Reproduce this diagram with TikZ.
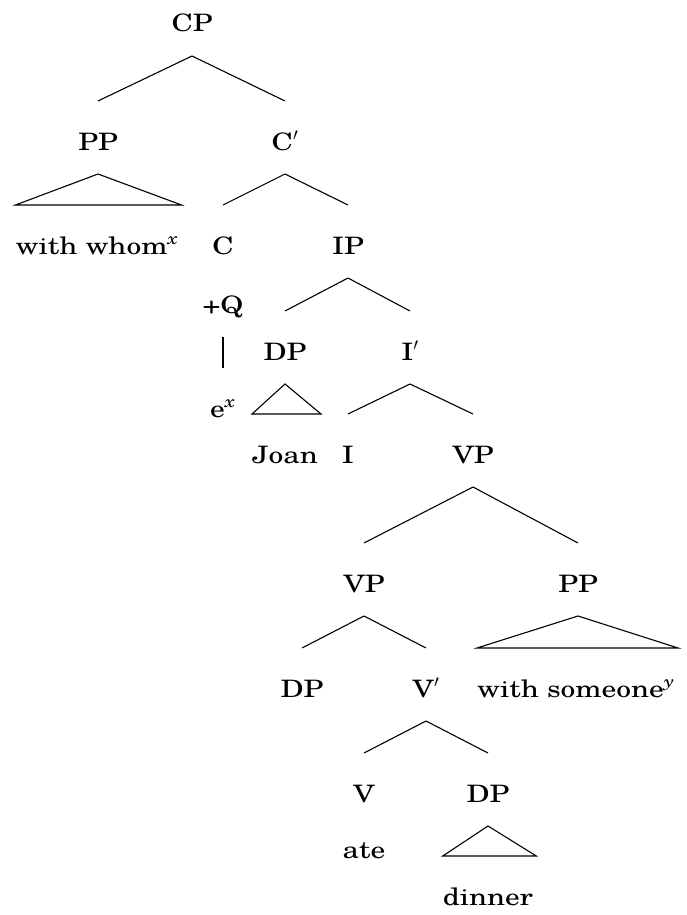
\documentclass[tikz,border=0pt]{standalone}
\usepackage{fontspec}
\setmainfont{texgyreschola}[Extension=.otf, UprightFont=*-regular, ItalicFont=*-italic, BoldFont=*-bold, BoldItalicFont=*-bolditalic, FakeStretch=1.23]
\usetikzlibrary{calc}

\tikzset{
  lbl/.style={anchor=base, inner sep=0pt, font=\fontsize{24}{28}\selectfont},
  branch/.style={line width=1.1pt, line join=miter},
}
% plain branch: from below the parent label to above the child label
\newcommand\treeedge[2]{\draw[branch] ([yshift=-24pt]#1.base) -- ([yshift=49pt]#2.base);}
% triangle over an unanalysed constituent
\newcommand\treetri[2]{%
  \path ([yshift=49pt]#2.base) coordinate (#2-top);
  \draw[branch] ([yshift=-24pt]#1.base) -- (#2-top -| #2.west) -- ([xshift=3pt]#2-top -| #2.east) -- cycle;}

\begin{document}
\begin{tikzpicture}[x=1pt, y=-1pt]
\useasboundingbox (0,0) rectangle (686,915);

\node[lbl] (cp)      at (192,32)  {CP};
\node[lbl] (pp)      at (98,150)  {PP};
\node[lbl] (cbar)    at (285,150) {C$'$};
\node[lbl] (whom)    at (97,254)  {with whom\textsuperscript{\itshape x}};
\node[lbl] (c)       at (223,254) {C};
\node[lbl] (ip)      at (348,254) {IP};
\node[lbl] (q)       at (223,313) {+Q};
\node[lbl] (dpa)     at (285,360) {DP};
\node[lbl] (ibar)    at (410,360) {I$'$};
\node[lbl] (ex)      at (223,417) {e\textsuperscript{\itshape x}};
\node[lbl] (joan)    at (285,463) {Joan};
\node[lbl] (i)       at (348,463) {I};
\node[lbl] (vpa)     at (473,463) {VP};
\node[lbl] (vpb)     at (364,592) {VP};
\node[lbl] (ppb)     at (578,592) {PP};
\node[lbl] (dpb)     at (302,697) {DP};
\node[lbl] (vbar)    at (426,697) {V$'$};
\node[lbl] (someone) at (576,697) {with someone\textsuperscript{\itshape y}};
\node[lbl] (v)       at (364,802) {V};
\node[lbl] (dpc)     at (488,802) {DP};
\node[lbl] (ate)     at (364,858) {ate};
\node[lbl] (dinner)  at (488,905) {dinner};

\treeedge{cp}{pp}
\treeedge{cp}{cbar}
\treetri{pp}{whom}
\treeedge{cbar}{c}
\treeedge{cbar}{ip}
\treeedge{q}{ex}
\treeedge{ip}{dpa}
\treeedge{ip}{ibar}
\treetri{dpa}{joan}
\treeedge{ibar}{i}
\treeedge{ibar}{vpa}
\treeedge{vpa}{vpb}
\treeedge{vpa}{ppb}
\treeedge{vpb}{dpb}
\treeedge{vpb}{vbar}
\treetri{ppb}{someone}
\treeedge{vbar}{v}
\treeedge{vbar}{dpc}
\treetri{dpc}{dinner}
\end{tikzpicture}
\end{document}
